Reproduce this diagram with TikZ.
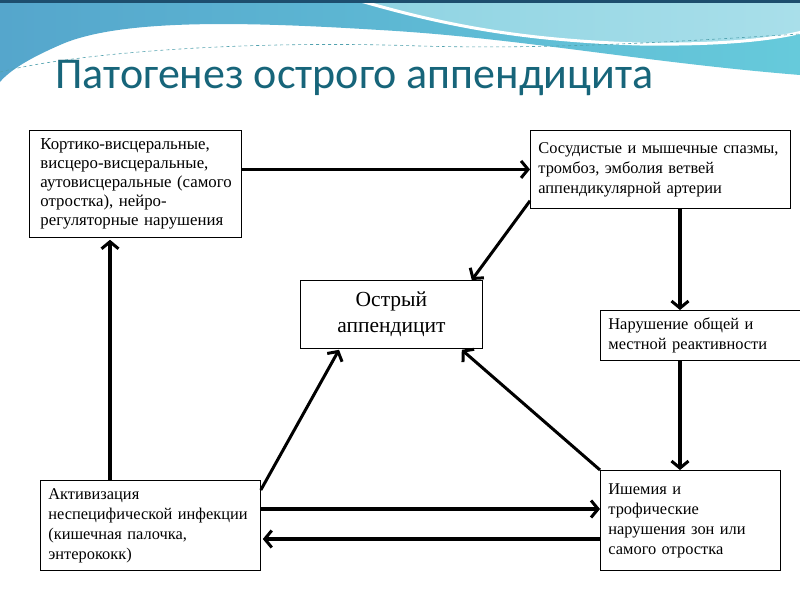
\documentclass[tikz,border=0pt]{standalone}
\usepackage{fontspec}
\setmainfont{Liberation Serif}
\newfontfamily\titlefont{Carlito}
\usetikzlibrary{arrows.meta,calc}
\definecolor{titleteal}{HTML}{17657A}
\definecolor{wavedark}{HTML}{55A6CC}
\definecolor{wavemid}{HTML}{66CADB}
\definecolor{wavelight}{HTML}{A9DFEA}
\definecolor{wavelight2}{HTML}{8ED3E2}
\definecolor{topline}{HTML}{1D4E6E}
\begin{document}
\begin{tikzpicture}[x=1pt,y=-1pt,
  box/.style={draw=black, line width=0.8pt, fill=white, anchor=north west,
    font=\fontsize{16.4}{20}\selectfont, align=left, inner xsep=8pt, inner ysep=0pt},
  arr/.style={line width=3.6pt, -{Straight Barb[length=7pt,width=17pt,line width=3pt]}},
  darr/.style={line width=3pt, -{Straight Barb[length=7pt,width=17pt,line width=3pt]}}]
\useasboundingbox (0,0) rectangle (800,600);
\fill[white] (0,0) rectangle (800,600);
% top waves
\shade[left color=wavedark, right color=wavemid]
  (0,0) -- (800,0) -- (800,75) .. controls (640,62) and (520,38) .. (380,30)
  .. controls (250,22) and (120,18) .. (60,45) .. controls (30,58) and (10,70) .. (0,82) -- cycle;
\shade[left color=wavelight2, right color=wavelight, draw=white, line width=3pt]
  (350,-2) .. controls (420,18) and (500,40) .. (640,44) .. controls (720,45) and (770,40) .. (802,32) -- (802,-2) -- cycle;
\draw[wavemid!80!black, line width=0.6pt, dashed]
  (0,72) .. controls (80,52) and (250,40) .. (420,46) .. controls (560,50) and (700,40) .. (800,34);
\fill[topline] (0,0) rectangle (800,2.5);
% title
\node[anchor=base west, inner sep=0pt, text=titleteal, font=\titlefont\fontsize{44}{44}\selectfont]
  (title) at (55,88) {Патогенез острого аппендицита};
% boxes
\node[box, inner xsep=11pt, text width=190pt, minimum height=107pt, font=\fontsize{16.8}{19}\selectfont] (b1) at (29,130)
  {\mbox{Кортико-висцеральные,}\\\mbox{висцеро-висцеральные,}\\\mbox{аутовисцеральные (самого}\\\mbox{отростка), нейро-}\\\mbox{регуляторные нарушения}};
\node[box, text width=244pt, minimum height=78pt] (b2) at (530,130)
  {\mbox{Сосудистые и мышечные спазмы,}\\\mbox{тромбоз, эмболия ветвей}\\\mbox{аппендикулярной артерии}};
\node[box, align=center, text width=166pt, minimum height=68pt, font=\fontsize{21.5}{26}\selectfont] (b3) at (300,280)
  {Острый\\аппендицит};
\node[box, text width=189pt, minimum height=50pt] (b4) at (600,310)
  {\mbox{Нарушение общей и}\\\mbox{местной реактивности}};
\node[box, text width=204pt, minimum height=90pt] (b5) at (40,480)
  {\mbox{Активизация}\\\mbox{неспецифической инфекции}\\\mbox{(кишечная палочка,}\\\mbox{энтерококк)}};
\node[box, text width=164pt, minimum height=100pt] (b6) at (600,470)
  {\mbox{Ишемия и}\\\mbox{трофические}\\\mbox{нарушения зон или}\\\mbox{самого отростка}\\[6pt]};
% helper coordinates
\coordinate (colx) at (680,0);
\coordinate (colL) at (110,0);
\coordinate (row1) at (0,509);
\coordinate (row2) at (0,539);
% connectors
\draw[arr] (b1.east |- b2.west) -- (b2.west);
\draw[darr] ([yshift=8pt]b2.south west) -- ([xshift=-11pt]b3.north east);
\draw[arr] (b2.south -| colx) -- (b4.north -| colx);
\draw[arr] (b4.south -| colx) -- (b6.north -| colx);
\draw[darr] (b6.north west) -- ([xshift=-21pt,yshift=-1pt]b3.south east);
\draw[darr] ([yshift=-10pt]b5.north east) -- ([xshift=39pt,yshift=-1pt]b3.south west);
\draw[arr] (b5.north -| colL) -- ([yshift=-2pt]b1.south -| colL);
\draw[arr] (b5.east |- row1) -- (b6.west |- row1);
\draw[arr] (b6.west |- row2) -- ([xshift=2pt]b5.east |- row2);
\end{tikzpicture}
\end{document}
